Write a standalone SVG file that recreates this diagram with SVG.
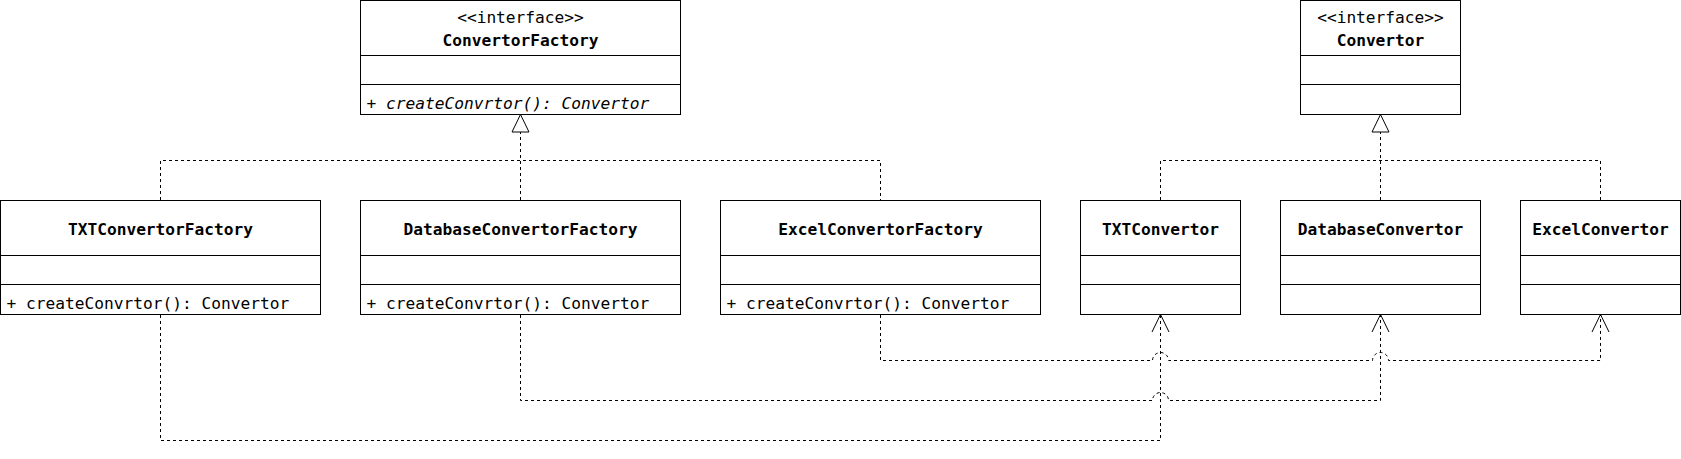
<svg xmlns="http://www.w3.org/2000/svg" width="1681" height="459" viewBox="0 0 1681 459">
<style>
.box{fill:#fff;stroke:#000;stroke-width:1}
.ln{stroke:#000;stroke-width:1;fill:none}
.t{font-family:"DejaVu Sans Mono","Liberation Mono",monospace;font-size:16.2px;fill:#000}
.b{font-weight:bold;text-anchor:middle}
.c{text-anchor:middle}
.i{font-style:italic}
.d{stroke:#000;stroke-width:1;fill:none;stroke-dasharray:3 3}
</style>
<rect width="1681" height="459" fill="#fff"/>
<g id="ConvertorFactory">
<rect class="box" x="360.5" y="0.5" width="320" height="114"/>
<line class="ln" x1="360.5" y1="55.5" x2="680.5" y2="55.5"/>
<line class="ln" x1="360.5" y1="84.5" x2="680.5" y2="84.5"/>
<text class="t c" x="520.5" y="23">&lt;&lt;interface&gt;&gt;</text>
<text class="t b" x="520.5" y="46">ConvertorFactory</text>
<text class="t i" x="366.5" y="109">+ createConvrtor(): Convertor</text>
</g>
<g id="Convertor">
<rect class="box" x="1300.5" y="0.5" width="160" height="114"/>
<line class="ln" x1="1300.5" y1="55.5" x2="1460.5" y2="55.5"/>
<line class="ln" x1="1300.5" y1="84.5" x2="1460.5" y2="84.5"/>
<text class="t c" x="1380.5" y="23">&lt;&lt;interface&gt;&gt;</text>
<text class="t b" x="1380.5" y="46">Convertor</text>
</g>
<g id="TXTConvertorFactory">
<rect class="box" x="0.5" y="200.5" width="320" height="114"/>
<line class="ln" x1="0.5" y1="255.5" x2="320.5" y2="255.5"/>
<line class="ln" x1="0.5" y1="284.5" x2="320.5" y2="284.5"/>
<text class="t b" x="160.5" y="235">TXTConvertorFactory</text>
<text class="t" x="6.5" y="309">+ createConvrtor(): Convertor</text>
</g>
<g id="DatabaseConvertorFactory">
<rect class="box" x="360.5" y="200.5" width="320" height="114"/>
<line class="ln" x1="360.5" y1="255.5" x2="680.5" y2="255.5"/>
<line class="ln" x1="360.5" y1="284.5" x2="680.5" y2="284.5"/>
<text class="t b" x="520.5" y="235">DatabaseConvertorFactory</text>
<text class="t" x="366.5" y="309">+ createConvrtor(): Convertor</text>
</g>
<g id="ExcelConvertorFactory">
<rect class="box" x="720.5" y="200.5" width="320" height="114"/>
<line class="ln" x1="720.5" y1="255.5" x2="1040.5" y2="255.5"/>
<line class="ln" x1="720.5" y1="284.5" x2="1040.5" y2="284.5"/>
<text class="t b" x="880.5" y="235">ExcelConvertorFactory</text>
<text class="t" x="726.5" y="309">+ createConvrtor(): Convertor</text>
</g>
<g id="TXTConvertor">
<rect class="box" x="1080.5" y="200.5" width="160" height="114"/>
<line class="ln" x1="1080.5" y1="255.5" x2="1240.5" y2="255.5"/>
<line class="ln" x1="1080.5" y1="284.5" x2="1240.5" y2="284.5"/>
<text class="t b" x="1160.5" y="235">TXTConvertor</text>
</g>
<g id="DatabaseConvertor">
<rect class="box" x="1280.5" y="200.5" width="200" height="114"/>
<line class="ln" x1="1280.5" y1="255.5" x2="1480.5" y2="255.5"/>
<line class="ln" x1="1280.5" y1="284.5" x2="1480.5" y2="284.5"/>
<text class="t b" x="1380.5" y="235">DatabaseConvertor</text>
</g>
<g id="ExcelConvertor">
<rect class="box" x="1520.5" y="200.5" width="160" height="114"/>
<line class="ln" x1="1520.5" y1="255.5" x2="1680.5" y2="255.5"/>
<line class="ln" x1="1520.5" y1="284.5" x2="1680.5" y2="284.5"/>
<text class="t b" x="1600.5" y="235">ExcelConvertor</text>
</g>
<g id="connectors">
<path class="d" d="M160.5,200 V160.5 H880.5 V200"/>
<path class="d" d="M520.5,200 V132"/>
<polygon class="box" points="520.5,114.5 512,132 529,132"/>
<path class="d" d="M1160.5,200 V160.5 H1600.5 V200"/>
<path class="d" d="M1380.5,200 V132"/>
<polygon class="box" points="1380.5,114.5 1372,132 1389,132"/>
<path class="d" d="M880.5,315 V360.5 H1152.5 A8,8 0 0 1 1168.5,360.5 H1372.5 A8,8 0 0 1 1388.5,360.5 H1600.5 V315"/>
<path class="d" d="M520.5,315 V400.5 H1152.5 A8,8 0 0 1 1168.5,400.5 H1380.5 V315"/>
<path class="d" d="M160.5,315 V440.5 H1160.5 V315"/>
<path class="ln" d="M1152,332 L1160.5,314.5 L1169,332"/>
<path class="ln" d="M1372,332 L1380.5,314.5 L1389,332"/>
<path class="ln" d="M1592,332 L1600.5,314.5 L1609,332"/>
</g>
</svg>
